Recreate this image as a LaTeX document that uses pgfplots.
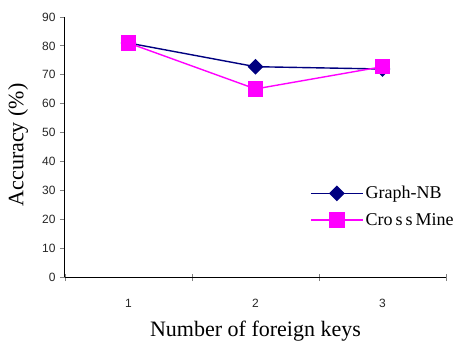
\documentclass[border=0pt]{standalone}
\usepackage{fontspec}
\setmainfont{Liberation Serif}
\newfontfamily\arialfont{Liberation Sans}
\usepackage{pgfplots}
\pgfplotsset{compat=1.18}
\definecolor{navyline}{RGB}{0,0,128}
\definecolor{magline}{RGB}{255,0,255}
\begin{document}
\begin{tikzpicture}[x=1pt,y=1pt]
\useasboundingbox (-65,-64) rectangle (394,277);
\begin{axis}[
  at={(0,0)}, anchor=south west,
  scale only axis, width=381pt, height=260pt,
  xmin=0.5, xmax=3.5, ymin=0, ymax=90,
  axis lines=left, axis line style={-, line width=1pt},
  xtick={1,2,3}, major x tick style={draw=none},
  minor xtick={0.5,1.5,2.5,3.5},
  minor x tick style={line width=0.8pt, yshift=3pt},
  minor tick length=7pt,
  ytick={0,10,...,90},
  y tick style={line width=0.8pt},
  major tick length=5pt,
  tick align=outside,
  /pgf/number format/assume math mode=true,
  tick label style={font=\arialfont\fontsize{12}{12}\selectfont, color=black!85},
  xticklabel style={yshift=-14pt},
  yticklabel style={xshift=-1pt},
  xlabel={Number of foreign keys},
  ylabel={Accuracy (\%)},
  label style={font=\fontsize{22}{22}\selectfont},
  xlabel style={at={(axis description cs:0.5,0)}, anchor=base, yshift=-59pt},
  ylabel style={at={(axis description cs:-0.123,0.508)}, anchor=center},
  legend style={draw=none, fill=none, inner sep=0pt, at={(0.643,0.271)}, anchor=west,
    font=\fontsize{18}{18}\selectfont, row sep=9pt},
  legend cell align=left,
  legend image code/.code={
    \draw[mark repeat=2,mark phase=2,#1] plot coordinates {(0pt,0pt) (26pt,0pt) (52pt,0pt)};
  },
]
% Graph-NB: diamonds drawn as rotated filled squares
\addplot[navyline, line width=1.4pt, mark=square*, mark size=4.9pt,
  mark options={solid, fill=navyline, rotate=45}]
  coordinates {(1,81) (2,72.8) (3,72.0)};
\addlegendentry{Graph-NB}
\addplot[magline, line width=1.4pt, mark=square*, mark size=7pt, mark options={solid, fill=magline}]
  coordinates {(1,81) (2,65.1) (3,72.8)};
\addlegendentry{Cro\,s\,s\,Mine}
\end{axis}
\end{tikzpicture}
\end{document}
